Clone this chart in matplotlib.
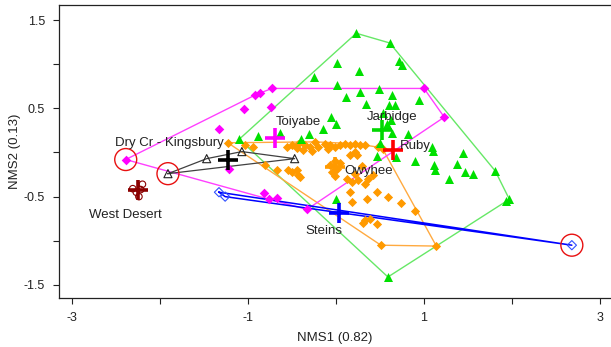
import numpy as np
import matplotlib
matplotlib.use("Agg")
import matplotlib.pyplot as plt

plt.rcParams['font.family'] = ['Liberation Sans', 'DejaVu Sans']

# -------------------------
# group scores (NMS1, NMS2)
# -------------------------
jarbidge_x = [0.23, 0.61, 0.72, 0.75, 0.01, 0.26, -0.25, 0.01, 0.27, 0.49, 0.11, 0.64, 0.94,
              0.34, 0.60, 0.67, -0.06, 0.00, -0.15, -0.31, -0.40, -0.64, -0.89, -1.10, 0.53,
              0.63, 0.58, 0.64, 0.50, 0.82, 1.09, 1.10, 0.47, 0.68, 0.90, 1.11, 1.12, 1.44,
              1.38, 1.47, 1.56, 1.28, 1.81, 1.93, 1.97, 0.59, 0.00]
jarbidge_y = [1.35, 1.24, 1.04, 0.99, 1.01, 0.92, 0.86, 0.76, 0.69, 0.72, 0.63, 0.65, 0.59,
              0.55, 0.54, 0.54, 0.40, 0.32, 0.27, 0.21, 0.15, 0.22, 0.19, 0.15, 0.45,
              0.37, 0.32, 0.22, 0.11, 0.21, 0.06, 0.02, -0.04, -0.05, -0.10, -0.14, -0.20, -0.01,
              -0.13, -0.22, -0.24, -0.30, -0.21, -0.55, -0.53, -1.41, -0.53]

owyhee_x = [-1.23, -1.03, -0.94, -0.56, -0.50, -0.43, -0.35, -0.30, -0.24, -0.20, -0.13, -0.07,
            -0.01, 0.05, 0.10, 0.16, 0.22, 0.27, 0.33, 0.48, 0.53, -0.44, -0.38, -0.27, -0.09,
            0.22, 0.24, 0.16, -0.81, -0.67, -0.55, -0.50, -0.44, -0.43, -0.41, -0.07, -0.01,
            0.01, -0.05, -0.01, 0.05, 0.13, 0.18, 0.25, 0.22, 0.33, 0.36, 0.42, 0.30, 0.16,
            0.18, 0.35, 0.47, 0.59, 0.74, 0.90, 0.33, 0.39, 0.47, 0.31, 0.51, 1.14]
owyhee_y = [0.11, 0.08, 0.06, 0.06, 0.08, 0.10, 0.08, 0.06, 0.12, 0.06, 0.10, 0.08,
            0.06, 0.08, 0.10, 0.08, 0.10, 0.08, 0.08, 0.06, 0.04, 0.05, 0.03, 0.02, 0.04,
            0.01, -0.03, -0.03, -0.14, -0.20, -0.20, -0.22, -0.20, -0.25, -0.28, -0.14, -0.10,
            -0.19, -0.22, -0.27, -0.12, -0.30, -0.33, -0.31, -0.24, -0.36, -0.30, -0.25, -0.15, -0.45,
            -0.56, -0.53, -0.45, -0.50, -0.57, -0.66, -0.76, -0.75, -0.81, -0.80, -1.05, -1.06]

toiyabe_x = [-2.39, -0.92, -0.86, -0.73, -1.05, -0.74, -1.33, -1.22, -0.82, -0.76, -0.67, -0.33, 1.00, 1.23]
toiyabe_y = [-0.08, 0.65, 0.67, 0.725, 0.49, 0.52, 0.27, -0.19, -0.46, -0.53, -0.52, -0.645, 0.725, 0.40]

drycr_x = [-1.91, -1.47, -1.07, -0.47]
drycr_y = [-0.24, -0.07, 0.01, -0.07]

steins_x = [-1.33, -1.26, 2.68]
steins_y = [-0.45, -0.50, -1.05]

westdesert_x = [-2.20, -2.24, -2.31, -2.27, -2.22]
westdesert_y = [-0.36, -0.50, -0.41, -0.45, -0.42]

# group centroids
cent_names = ['Jarbidge', 'Owyhee', 'Toiyabe', 'Dry Cr - Kingsbury', 'Steins', 'West Desert', 'Ruby']
cent_x = [0.52, -0.01, -0.69, -1.23, 0.03, -2.25, 0.65]
cent_y = [0.26, -0.16, 0.16, -0.08, -0.68, -0.43, 0.03]
cent_colors = ['#00D800', '#FF9A00', '#FF00FF', '#000000', '#0000FF', '#8B0000', '#FF0000']

# outlier plots (circled)
outlier_x = [-2.39, -1.91, 2.68]
outlier_y = [-0.08, -0.24, -1.05]

# labels and where they sit
label_text = ['Dry Cr - Kingsbury', 'Toiyabe', 'Jarbidge', 'Ruby', 'Owyhee', 'Steins', 'West Desert']
label_x = [-2.51, -0.68, 0.35, 0.73, 0.09, -0.35, -2.81]
label_y = [0.11, 0.34, 0.40, 0.07, -0.21, -0.89, -0.71]


def hull(xs, ys):
    # monotone chain convex hull, returns closed polygon
    pts = sorted(set(zip(xs, ys)))
    if len(pts) < 3:
        return np.array(pts + pts[:1])

    def cross(o, a, b):
        return (a[0] - o[0]) * (b[1] - o[1]) - (a[1] - o[1]) * (b[0] - o[0])

    lower, upper = [], []
    for p in pts:
        while len(lower) >= 2 and cross(lower[-2], lower[-1], p) <= 0:
            lower.pop()
        lower.append(p)
    for p in reversed(pts):
        while len(upper) >= 2 and cross(upper[-2], upper[-1], p) <= 0:
            upper.pop()
        upper.append(p)
    h = lower[:-1] + upper[:-1]
    return np.array(h + h[:1])


fig = plt.figure(figsize=(6.11, 3.47), dpi=100)
ax = fig.add_axes([0.0966, 0.1412, 0.9034, 0.8444])

# hulls
for xs, ys, col, lw in [(jarbidge_x, jarbidge_y, '#66E866', 1.0),
                        (owyhee_x, owyhee_y, '#FFAA40', 1.0),
                        (toiyabe_x, toiyabe_y, '#FF40FF', 1.0),
                        (drycr_x, drycr_y, '#404040', 0.9),
                        (steins_x, steins_y, '#0000FF', 1.1)]:
    h = hull(xs, ys)
    ax.plot(h[:, 0], h[:, 1], color=col, lw=lw, zorder=1)

# points
ax.scatter(owyhee_x, owyhee_y, marker='D', s=22, color='#FF9A00', linewidths=0, zorder=2)
ax.scatter(jarbidge_x, jarbidge_y, marker='^', s=42, color='#00E000', linewidths=0, zorder=3)
ax.scatter(toiyabe_x, toiyabe_y, marker='D', s=24, color='#FF00FF', linewidths=0, zorder=3)
ax.scatter(drycr_x, drycr_y, marker='^', s=34, facecolors='none', edgecolors='#222222', linewidths=0.8, zorder=3)
ax.scatter(steins_x, steins_y, marker='D', s=22, facecolors='none', edgecolors='#3050FF', linewidths=0.8, zorder=3)
ax.scatter(westdesert_x, westdesert_y, marker='o', s=22, facecolors='none', edgecolors='#8B0000', linewidths=0.8, zorder=3)

# centroids
for cx, cy, col in zip(cent_x, cent_y, cent_colors):
    ax.scatter([cx], [cy], marker='+', s=190, color=col, linewidths=2.6, zorder=5)

# outliers
ax.scatter(outlier_x, outlier_y, marker='o', s=250, facecolors='none', edgecolors='#E81010', linewidths=1.0, zorder=4)

for t, lx, ly in zip(label_text, label_x, label_y):
    ax.text(lx, ly, t, fontsize=9.5, color='#222222', ha='left', va='center', zorder=6)

ax.set_xlim(-3.148, 3.125)
ax.set_ylim(-1.648, 1.670)

ax.set_xticks([-3, -2, -1, 0, 1, 2, 3])
ax.set_xticklabels(['-3', '', '-1', '', '1', '', '3'])
ax.set_yticks([-1.5, -1, -0.5, 0, 0.5, 1, 1.5])
ax.set_yticklabels(['-1.5', '', '-0.5', '', '0.5', '', '1.5'])
ax.tick_params(direction='out', length=4, width=0.8, labelsize=9, colors='#222222', pad=6)

ax.spines['right'].set_visible(False)
for s in ['left', 'bottom', 'top']:
    ax.spines[s].set_linewidth(0.9)
    ax.spines[s].set_color('#222222')

ax.set_xlabel('NMS1 (0.82)', fontsize=9.5, color='#222222', labelpad=6)
ax.set_ylabel('NMS2 (0.13)', fontsize=9.5, color='#222222', labelpad=2)

fig.savefig('out.png', dpi=100)
